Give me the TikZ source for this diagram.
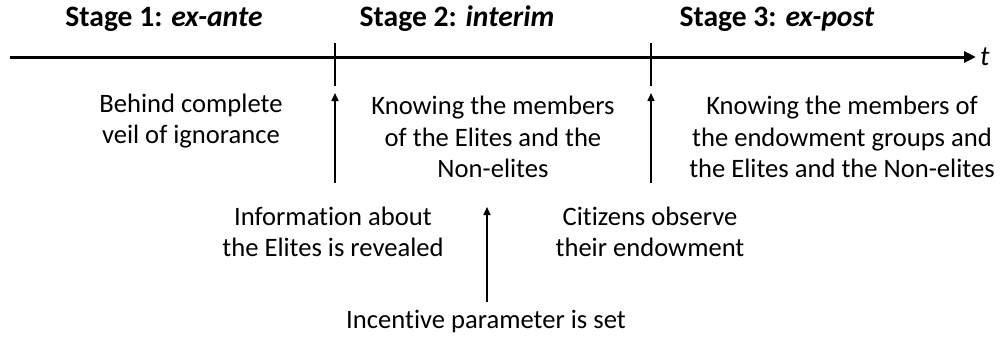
\documentclass[tikz,border=0pt]{standalone}
\usepackage{fontspec}
\setmainfont{Carlito}[Ligatures=NoCommon]
\usetikzlibrary{arrows.meta}

\begin{document}
\begin{tikzpicture}[x=1pt,y=-1pt,
  stagetitle/.style={font=\fontsize{29.6}{34}\selectfont\bfseries, inner sep=0pt},
  infotext/.style={align=center, font=\fontsize{26.6}{31.5}\selectfont, inner sep=0pt},
  timeaxis/.style={line width=3pt, -{Triangle[length=12pt,width=11pt]}},
  tickmark/.style={line width=1.6pt},
  eventarrow/.style={line width=1.6pt, -{Triangle[length=8pt,width=7pt]}}]
\useasboundingbox (0,0) rectangle (1005,338);

% time axis and stage borders
\coordinate (start) at (10,57);
\coordinate (end) at (976,57);
\draw[timeaxis] (start) -- (end);
\node[anchor=west, inner sep=0pt, font=\fontsize{28}{30}\selectfont\itshape] (tlabel) at (980,57) {t};
\coordinate (tickAtop) at (335,43);
\coordinate (tickAbot) at (335,86);
\coordinate (tickBtop) at (651,43);
\coordinate (tickBbot) at (651,86);
\draw[tickmark] (tickAtop) -- (tickAbot);
\draw[tickmark] (tickBtop) -- (tickBbot);

% stage titles
\node[stagetitle] (stageone) at (164,19) {Stage 1: \textit{ex-ante}};
\node[stagetitle] (stagetwo) at (457,19) {Stage 2: \textit{interim}};
\node[stagetitle] (stagethree) at (777,19) {Stage 3: \textit{ex-post}};

% what is known in each stage
\node[infotext] (knowone) at (191,121) {Behind complete\\veil of ignorance};
\node[infotext] (knowtwo) at (493,137) {Knowing the members\\of the Elites and the\\Non-elites};
\node[infotext] (knowthree) at (842,137) {Knowing the members of\\the endowment groups and\\the Elites and the Non-elites};

% events
\node[infotext] (eventone) at (333,232) {Information about\\the Elites is revealed};
\node[infotext] (eventtwo) at (650,232) {Citizens observe\\their endowment};
\node[infotext] (eventmid) at (486,321) {Incentive parameter is set};

\coordinate (arrAfoot) at (335,183);
\coordinate (arrAhead) at (335,93);
\coordinate (arrBfoot) at (651,183);
\coordinate (arrBhead) at (651,93);
\coordinate (arrMhead) at (487,207);
\draw[eventarrow] (arrAfoot) -- (arrAhead);
\draw[eventarrow] (arrBfoot) -- (arrBhead);
\draw[eventarrow] (eventmid.north -| arrMhead) ++(0,-8) -- (arrMhead);
\end{tikzpicture}
\end{document}
